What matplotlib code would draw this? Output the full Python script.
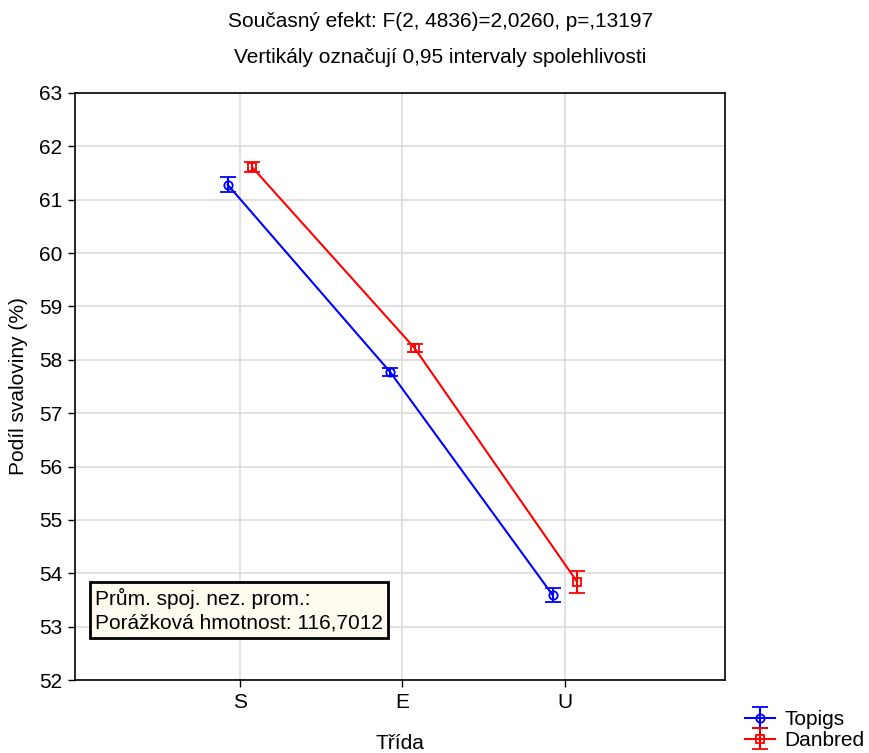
import matplotlib
matplotlib.use('Agg')
import matplotlib.pyplot as plt
import numpy as np

plt.rcParams['font.family'] = ['Liberation Sans', 'DejaVu Sans']

categories = ['S', 'E', 'U']
topigs_mean = [61.28, 57.77, 53.59]
topigs_ci = [0.14, 0.07, 0.13]
danbred_mean = [61.61, 58.22, 53.84]
danbred_ci = [0.09, 0.075, 0.21]
yticks = list(range(52, 64))

fig = plt.figure(figsize=(8.7, 7.53), dpi=100)
ax = fig.add_axes([0.0862, 0.0969, 0.7471, 0.7796])

x = np.arange(len(categories))
off = 0.075

ax.grid(True, color='#dcdcdc', linewidth=1.2, zorder=0)
ax.set_axisbelow(True)

h1 = ax.errorbar(x - off, topigs_mean, yerr=topigs_ci, color='#0000ff', lw=1.5,
                 marker='o', ms=6, mfc='none', mew=1.3, capsize=5.5, capthick=1.5,
                 elinewidth=1.5, label='Topigs', zorder=3)
h2 = ax.errorbar(x + off, danbred_mean, yerr=danbred_ci, color='#ff0000', lw=1.5,
                 marker='s', ms=6, mfc='none', mew=1.3, capsize=5.5, capthick=1.5,
                 elinewidth=1.5, label='Danbred', zorder=3)

ax.set_xlim(-1.015, 2.985)
ax.set_ylim(52, 63)
ax.set_xticks(x)
ax.set_xticklabels(categories)
ax.set_yticks(yticks)
ax.tick_params(labelsize=15, direction='out', length=5, width=1, pad=4)
for s in ax.spines.values():
    s.set_linewidth(1.2)

ax.set_xlabel('Třída', fontsize=15, labelpad=16)
ax.set_ylabel('Podíl svaloviny (%)', fontsize=15, labelpad=8)

fig.text(0.506, 0.971, 'Současný efekt: F(2, 4836)=2,0260, p=,13197',
         ha='center', va='center', fontsize=15)
fig.text(0.506, 0.924, 'Vertikály označují 0,95 intervaly spolehlivosti',
         ha='center', va='center', fontsize=15)

ax.text(0.031, 0.119, 'Prům. spoj. nez. prom.:\nPorážková hmotnost: 116,7012',
        transform=ax.transAxes, fontsize=15, va='center', ha='left', linespacing=1.35,
        bbox=dict(boxstyle='square,pad=0.25', facecolor='#fffbef', edgecolor='black', linewidth=2))

fig.legend(handles=[h1, h2], loc='lower left', bbox_to_anchor=(0.856, 0.004),
           frameon=False, fontsize=15, handlelength=1.45, handletextpad=0.45,
           labelspacing=0.1, borderpad=0, borderaxespad=0)

fig.savefig('out.png', dpi=100)
